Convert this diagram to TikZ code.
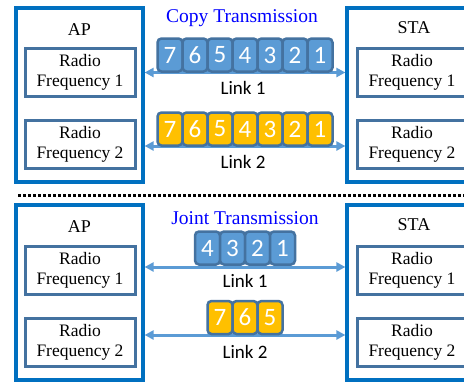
\documentclass[tikz,border=0pt]{standalone}
\usepackage{fontspec}
\setmainfont{Liberation Serif}
\newfontfamily\rffont{Liberation Serif}
\newfontfamily\pktfont{Carlito}
\usetikzlibrary{arrows.meta, positioning}
\definecolor{devblue}{RGB}{0,112,192}
\definecolor{rfblue}{RGB}{68,114,160}
\definecolor{pktblue}{RGB}{91,155,213}
\definecolor{pktgold}{RGB}{255,192,0}

\begin{document}
\begin{tikzpicture}[
		x=1pt, y=-1pt,
		dev/.style={draw=devblue, line width=3.2pt, minimum width=127pt, minimum height=174pt, inner sep=0pt},
		rf/.style={draw=rfblue, line width=3pt, minimum width=110pt, minimum height=48pt, inner sep=0pt, align=center, font=\rffont\fontsize{17.5}{20}\selectfont},
		devname/.style={font=\rffont\fontsize{18}{20}\selectfont},
		mode/.style={text=blue, font=\rffont\fontsize{19.5}{22}\selectfont},
		pkt/.style={draw=rfblue, line width=2.5pt, rounded corners=4pt, minimum width=25pt, minimum height=33pt, inner sep=0pt, text=white, font=\pktfont\fontsize{25}{25}\selectfont},
		link/.style={{Triangle[length=9pt,width=9pt]}-{Triangle[length=9pt,width=9pt]}, draw=pktblue, line width=3pt},
		linkname/.style={font=\pktfont\fontsize{19}{22}\selectfont}
		]
		\useasboundingbox (0,0) rectangle (464,383);
		
		% copy transmission
		\node[dev] (apT) at (79.5,95) {};
		\node[dev, minimum width=124pt] (staT) at (409,95) {};
		\node[devname] (apTname) at (79.5,30) {AP};
		\node[devname] (staTname) at (414,28) {STA};
		\node[rf] (apTrf1) at (80,72) {Radio\\Frequency 1};
		\node[rf] (apTrf2) at (80,144.5) {Radio\\Frequency 2};
		\node[rf] (staTrf1) at (412,72) {Radio\\Frequency 1};
		\node[rf] (staTrf2) at (412,144.5) {Radio\\Frequency 2};
		\node[mode] (copy) at (242,18) {Copy Transmission};
		
		\draw[link] (apT.east |- 0,72.5) -- (staT.west |- 0,72.5);
		\draw[link] (apT.east |- 0,146) -- (staT.west |- 0,146);
		\foreach \d [count=\i from 0] in {7,6,5,4,3,2,1} {
			\node[pkt, fill=pktblue] (cb\d) at (170+25*\i,55) {\d};
			\node[pkt, fill=pktgold] (cy\d) at (170+25*\i,129) {\d};
		}
		\node[linkname] (copy1) at (243,88) {Link 1};
		\node[linkname] (copy2) at (243,162) {Link 2};
		
		% separator
		\draw[line width=3pt, dash pattern=on 3pt off 2pt] (18,195) -- (470,195);
		
		% joint transmission
		\node[dev, minimum height=175pt] (apB) at (79.5,292.5) {};
		\node[dev, minimum width=124pt, minimum height=175pt] (staB) at (409,292.5) {};
		\node[devname] (apBname) at (79.5,227) {AP};
		\node[devname] (staBname) at (414,225) {STA};
		\node[rf] (apBrf1) at (80,270.5) {Radio\\Frequency 1};
		\node[rf] (apBrf2) at (80,342.5) {Radio\\Frequency 2};
		\node[rf] (staBrf1) at (412,270.5) {Radio\\Frequency 1};
		\node[rf] (staBrf2) at (412,342.5) {Radio\\Frequency 2};
		\node[mode] (joint) at (245,218) {Joint Transmission};
		
		\draw[link] (apB.east |- 0,267) -- (staB.west |- 0,267);
		\draw[link] (apB.east |- 0,335) -- (staB.west |- 0,335);
		\foreach \d [count=\i from 0] in {4,3,2,1}
			\node[pkt, fill=pktblue] (jb\d) at (207.5+25*\i,248) {\d};
		\foreach \d [count=\i from 0] in {7,6,5}
			\node[pkt, fill=pktgold] (jy\d) at (220+25*\i,317.5) {\d};
		\node[linkname] (joint1) at (245,281) {Link 1};
		\node[linkname] (joint2) at (245,352) {Link 2};
	\end{tikzpicture}
\end{document}
